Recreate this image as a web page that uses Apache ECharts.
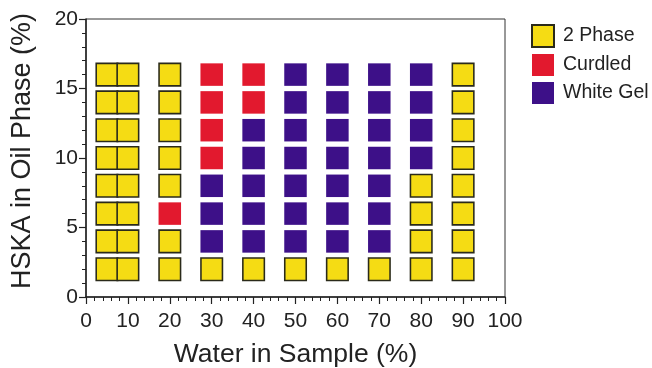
<!DOCTYPE html>
<html>
<head>
<meta charset="utf-8">
<script src="https://cdn.jsdelivr.net/npm/echarts@6/dist/echarts.min.js"></script>
<style>html,body{margin:0;padding:0;background:#fff}#c{width:652px;height:368px}</style>
</head>
<body>
<div id="c"></div>
<script>
// Water content of sample (%), one column each
const waterPct = [5, 10, 20, 30, 40, 50, 60, 70, 80, 90];
// HSKA in oil phase (%), rows from bottom to top
const hskaPct = [2, 4, 6, 8, 10, 12, 14, 16];
const phaseNames = ['2 Phase', 'Curdled', 'White Gel'];
const phaseColors = ['#f5dc14', '#e2192e', '#3d1088'];
// observed phase per column (water) and row (HSKA, low -> high): 0 = 2 Phase, 1 = Curdled, 2 = White Gel
const phaseState = [
  [0, 0, 0, 0, 0, 0, 0, 0], // 5
  [0, 0, 0, 0, 0, 0, 0, 0], // 10
  [0, 0, 1, 0, 0, 0, 0, 0], // 20
  [0, 2, 2, 2, 1, 1, 1, 1], // 30
  [0, 2, 2, 2, 2, 2, 1, 1], // 40
  [0, 2, 2, 2, 2, 2, 2, 2], // 50
  [0, 2, 2, 2, 2, 2, 2, 2], // 60
  [0, 2, 2, 2, 2, 2, 2, 2], // 70
  [0, 0, 0, 0, 2, 2, 2, 2], // 80
  [0, 0, 0, 0, 0, 0, 0, 0]  // 90
];
const xTicks = [0, 10, 20, 30, 40, 50, 60, 70, 80, 90, 100];
const yTicks = [0, 5, 10, 15, 20];

const seriesData = phaseNames.map(() => []);
waterPct.forEach((w, i) => {
  hskaPct.forEach((h, j) => {
    seriesData[phaseState[i][j]].push([w, h]);
  });
});

const txt = '#222';
const font = 'Liberation Sans, Arial, sans-serif';
const chart = echarts.init(document.getElementById('c'), null, {renderer: 'canvas'});
chart.setOption({
  animation: false,
  backgroundColor: '#fff',
  textStyle: {fontFamily: font, color: txt},
  grid: {left: 86, right: 147, top: 19, bottom: 71, outerBoundsMode: 'none', containLabel: false,
    show: true, borderColor: '#333', borderWidth: 1, backgroundColor: 'transparent'},
  legend: {
    orient: 'vertical', left: 526, top: 19, itemWidth: 22, itemHeight: 22, itemGap: 6,
    icon: 'rect',
    textStyle: {fontSize: 19.5, lineHeight: 22, color: txt, fontFamily: font, padding: [0, 0, 0, 4]},
    data: phaseNames
  },
  xAxis: {
    type: 'value', min: xTicks[0], max: xTicks[xTicks.length - 1], interval: 10,
    name: 'Water in Sample (%)', nameLocation: 'middle', nameGap: 44,
    nameTextStyle: {fontSize: 26.5, color: txt, fontFamily: font},
    axisLine: {lineStyle: {color: '#222', width: 1.5}},
    axisTick: {show: true, length: 7, lineStyle: {color: '#222', width: 1.2}},
    minorTick: {show: true, splitNumber: 5, length: 4, lineStyle: {color: '#222', width: 1}},
    axisLabel: {fontSize: 21, color: txt, margin: 14, fontFamily: font},
    splitLine: {show: false}
  },
  yAxis: {
    type: 'value', min: yTicks[0], max: yTicks[yTicks.length - 1], interval: 5,
    name: 'HSKA in Oil Phase (%)', nameLocation: 'middle', nameGap: 50,
    nameTextStyle: {fontSize: 27, color: txt, fontFamily: font, padding: [0, 0, 0, 14]},
    axisLine: {show: true, lineStyle: {color: '#222', width: 1.5}},
    axisTick: {show: true, length: 7, lineStyle: {color: '#222', width: 1.2}},
    minorTick: {show: true, splitNumber: 5, length: 4, lineStyle: {color: '#222', width: 1}},
    axisLabel: {fontSize: 21, color: txt, margin: 8, fontFamily: font},
    splitLine: {show: false}
  },
  series: phaseNames.map((name, k) => ({
    name: name,
    type: 'scatter',
    symbol: 'rect',
    symbolSize: k === 0 ? [21.5, 22.5] : 22.5,
    itemStyle: k === 0
      ? {color: phaseColors[k], borderColor: '#2a2a1a', borderWidth: 1.6, opacity: 1}
      : {color: phaseColors[k], opacity: 1},
    data: seriesData[k]
  }))
});
</script>
</body>
</html>
